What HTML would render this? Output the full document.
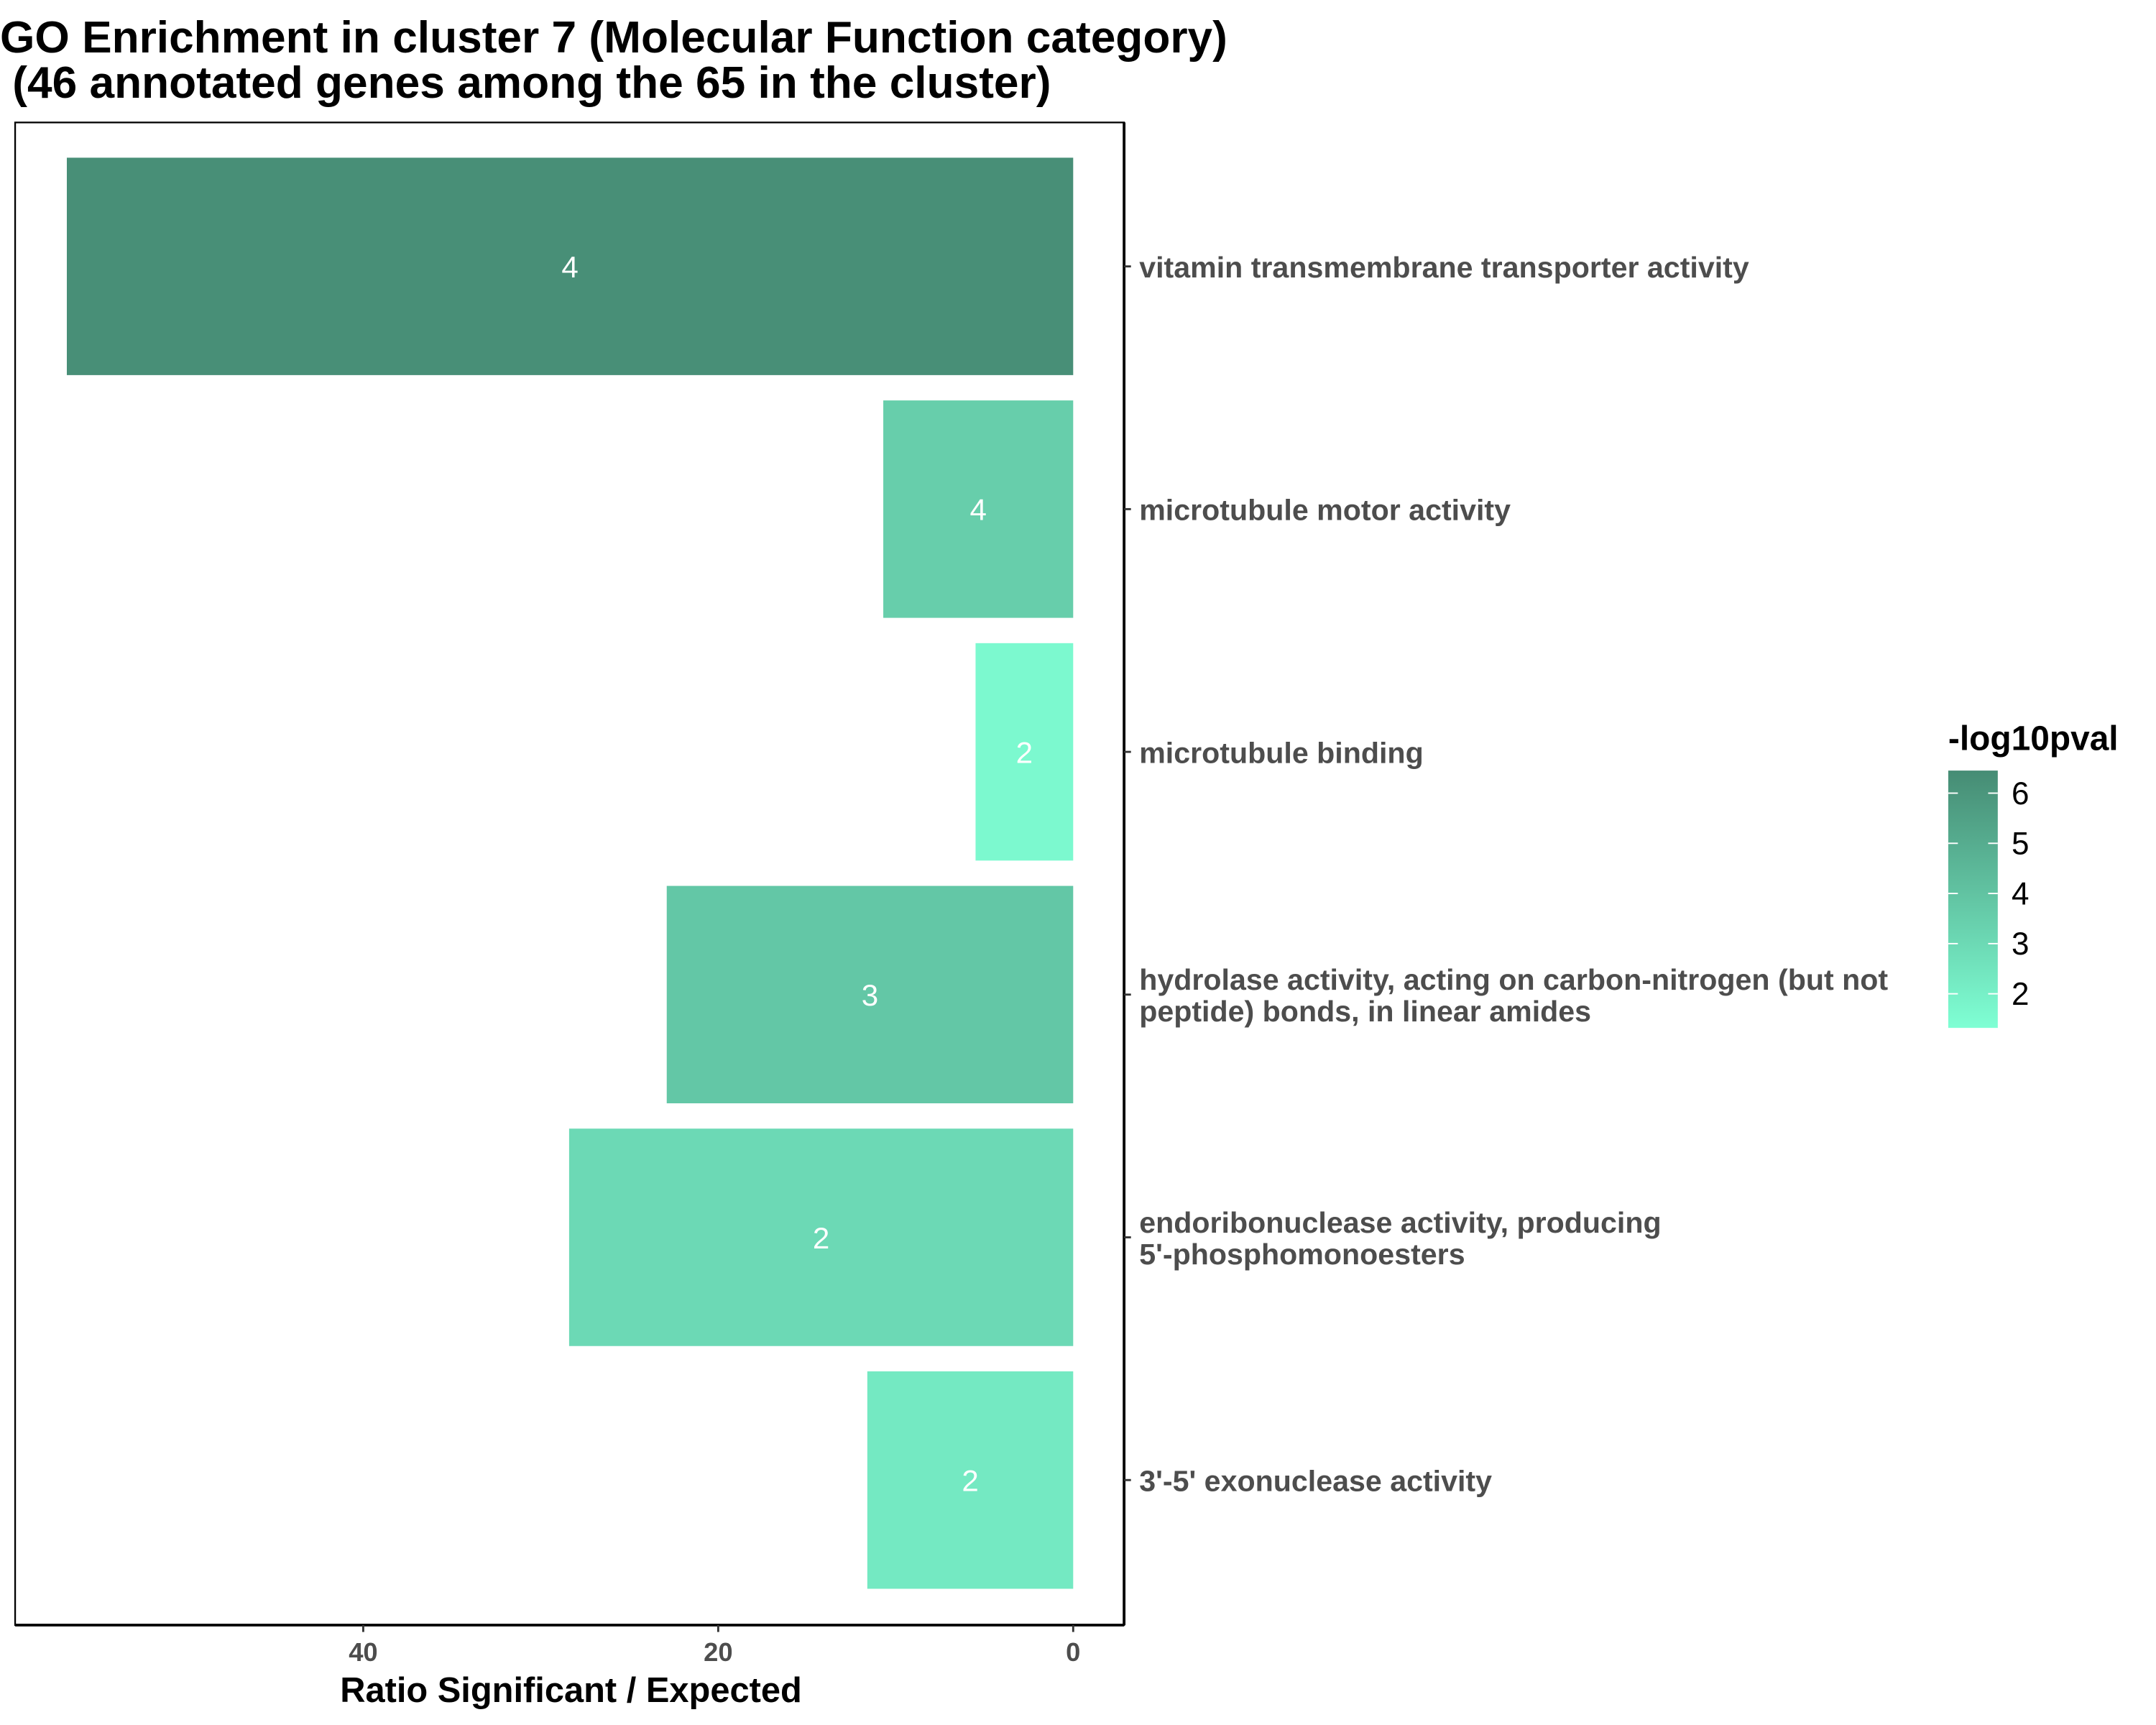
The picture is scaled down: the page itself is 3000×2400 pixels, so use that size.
<!DOCTYPE html>
<html><head><meta charset="utf-8"><style>
html,body{margin:0;padding:0;background:#fff}
svg{display:block}
text{font-family:"Liberation Sans",Arial,sans-serif}
</style></head><body>
<svg id="chart" width="3000" height="2400" viewBox="0 0 1567 1253.6" xmlns="http://www.w3.org/2000/svg">
<rect width="1567" height="1254" fill="#fff"/>
<text x="0" y="38" font-size="32.5" font-weight="bold" fill="#000">GO Enrichment in cluster 7 (Molecular Function category)</text>
<text x="0" y="71" font-size="32.5" font-weight="bold" fill="#000" xml:space="preserve"> (46 annotated genes among the 65 in the cluster)</text>
<rect x="11" y="89" width="806" height="1092" fill="none" stroke="#000" stroke-width="1.2"/>
<line x1="817" y1="89" x2="817" y2="1181" stroke="#000" stroke-width="2"/>
<line x1="11" y1="1181" x2="817" y2="1181" stroke="#000" stroke-width="2"/>
<g id="bars"></g>
<g id="yticks"></g>
<g id="xticks"></g>
<text x="415" y="1237" font-size="25.5" font-weight="bold" text-anchor="middle" fill="#000">Ratio Significant / Expected</text>
<text x="1416" y="545" font-size="25" font-weight="bold" fill="#000">-log10pval</text>
<defs><linearGradient id="lg" x1="0" y1="1" x2="0" y2="0">
<stop offset="0" stop-color="#7FFFD4"/><stop offset="1" stop-color="#468C74"/></linearGradient></defs>
<rect x="1416" y="560" width="36" height="187" fill="url(#lg)"/>
<g id="legend"></g>
</svg>
<script>
const categories=["vitamin transmembrane transporter activity","microtubule motor activity","microtubule binding","hydrolase activity, acting on carbon-nitrogen (but not|peptide) bonds, in linear amides","endoribonuclease activity, producing|5'-phosphomonoesters","3'-5' exonuclease activity"];
const ratios=[56.7,10.7,5.5,22.9,28.4,11.6];
const pvals=[6.3,3.5,1.6,3.8,3.0,2.3];
const counts=[4,4,2,3,2,2];
const xTicks=[0,20,40];
const legendTicks=[2,3,4,5,6];
const NS="http://www.w3.org/2000/svg";
const x0=780,xs=12.9;
function X(v){return x0-v*xs;}
const band=176.4,top0=105.4;
function Yc(i){return top0+band*i+band/2;}
const lmin=1.32,lmax=6.45;
function LY(v){return 747-(v-lmin)/(lmax-lmin)*187;}
function col(v){const t=Math.max(0,Math.min(1,(v-lmin)/(lmax-lmin)));const a=[0x7F,0xFF,0xD4],b=[0x46,0x8C,0x74];return "rgb("+a.map((c,k)=>Math.round(c+(b[k]-c)*t)).join(",")+")";}
function mk(t,at,p){const e=document.createElementNS(NS,t);for(const k in at)e.setAttribute(k,at[k]);p.appendChild(e);return e;}
const gb=document.getElementById("bars"),gy=document.getElementById("yticks"),gx=document.getElementById("xticks"),gl=document.getElementById("legend");
categories.forEach((c,i)=>{
 const yc=Yc(i),h=158;
 const r=mk("rect",{x:X(ratios[i]),y:yc-h/2,width:X(0)-X(ratios[i]),height:h,fill:col(pvals[i])},gb);
 
 
 const t=mk("text",{x:(X(0)+X(ratios[i]))/2,y:yc+8,"font-size":22,fill:"#fff","text-anchor":"middle"},gb);
 t.textContent=counts[i];
 
 
 const tk=mk("line",{x1:817,x2:822,y1:yc,y2:yc,stroke:"#333","stroke-width":1.5},gy);
 
 
 const lines=c.split("|");
 lines.forEach((s,j)=>{
  const lt=mk("text",{x:828,y:yc+8+(j-(lines.length-1)/2)*23,"font-size":21.5,"font-weight":"bold",fill:"#4D4D4D"},gy);
  lt.textContent=s;
  
  
 });
});
xTicks.forEach(v=>{
 const l=mk("line",{x1:X(v),x2:X(v),y1:1181,y2:1186,stroke:"#333","stroke-width":1.5},gx);
 
 
 const t=mk("text",{x:X(v),y:1207,"font-size":19,"font-weight":"bold",fill:"#4D4D4D","text-anchor":"middle"},gx);
 t.textContent=v;
 
 
});
legendTicks.forEach(v=>{
 const y=LY(v);
 mk("line",{x1:1416,x2:1423,y1:y,y2:y,stroke:"#fff","stroke-width":1},gl);
 mk("line",{x1:1445,x2:1452,y1:y,y2:y,stroke:"#fff","stroke-width":1},gl);
 const t=mk("text",{x:1462,y:y+8,"font-size":23,fill:"#000"},gl);
 t.textContent=v;
 
 
});
</script>
</body></html>
